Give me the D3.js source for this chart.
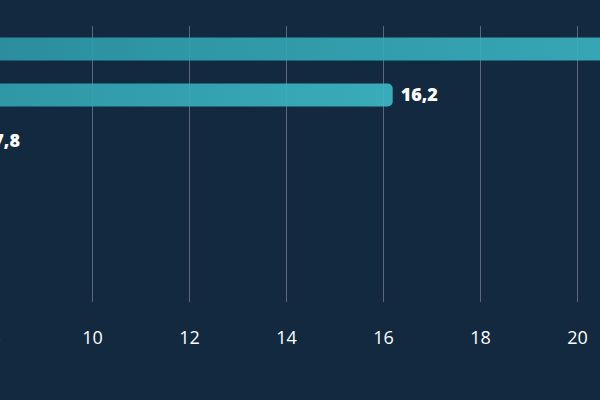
<!DOCTYPE html>
<html>
<head>
<meta charset="utf-8">
<script src="https://cdn.jsdelivr.net/npm/d3@7"></script>
<style>
  body { margin: 0; background: #12293f; }
  svg { display: block; font-family: "Open Sans", sans-serif; }
</style>
</head>
<body>
<svg id="chart" width="600" height="400"></svg>
<script>
// donnees (categories hors cadre a gauche)
const categories = ["A", "B", "C"];
const valeurs = [24, 16.2, 7.8];
const ticks = [0, 2, 4, 6, 8, 10, 12, 14, 16, 18, 20, 22];

const svg = d3.select("#chart");
const largeur = 600, hauteur = 400;

svg.append("rect").attr("width", largeur).attr("height", hauteur).attr("fill", "#12293f");

// l'axe commence hors cadre : 10 tombe a x = 92, 20 a x = 577
const x = d3.scaleLinear().domain([0, 20]).range([-393, 577]);
const y = d3.scaleBand().domain(categories).range([26, 26 + 46 * categories.length])
    .paddingInner(0.5).paddingOuter(0.25);

const defs = svg.append("defs");
const grad = defs.append("linearGradient").attr("id", "degrade")
    .attr("x1", "0").attr("x2", "1").attr("y1", "0").attr("y2", "0");
grad.append("stop").attr("offset", "0%").attr("stop-color", "#258192");
grad.append("stop").attr("offset", "50%").attr("stop-color", "#32a3b2");
grad.append("stop").attr("offset", "100%").attr("stop-color", "#3eb9c7");

// grille verticale
svg.append("g").selectAll("line").data(ticks).join("line")
    .attr("x1", d => x(d) + 0.5).attr("x2", d => x(d) + 0.5)
    .attr("y1", 26).attr("y2", 302)
    .attr("stroke", "#ffffff").attr("stroke-opacity", 0.3).attr("stroke-width", 1);

// barres
svg.append("g").selectAll("rect").data(valeurs).join("rect")
    .attr("x", x(0))
    .attr("y", (d, i) => y(categories[i]))
    .attr("width", d => x(d) - x(0))
    .attr("height", y.bandwidth())
    .attr("rx", 5)
    .attr("fill", "url(#degrade)")
    .attr("fill-opacity", 0.9);

// etiquettes des valeurs
svg.append("g").selectAll("text").data(valeurs).join("text")
    .attr("x", d => x(d) + 8)
    .attr("y", (d, i) => y(categories[i]) + y.bandwidth() / 2)
    .attr("dy", "0.35em")
    .attr("fill", "#ffffff")
    .attr("font-size", 18)
    .attr("font-weight", 800)
    .text(d => d.toString().replace(".", ","));

// axe du bas
const axe = svg.append("g").attr("transform", "translate(0,302)")
    .call(d3.axisBottom(x).tickValues(ticks).tickSize(0).tickPadding(29).tickFormat(d => d));
axe.select(".domain").remove();
axe.selectAll("text").attr("fill", "#ffffff").attr("font-size", 18)
    .attr("font-family", "Open Sans, sans-serif");
</script>
</body>
</html>
